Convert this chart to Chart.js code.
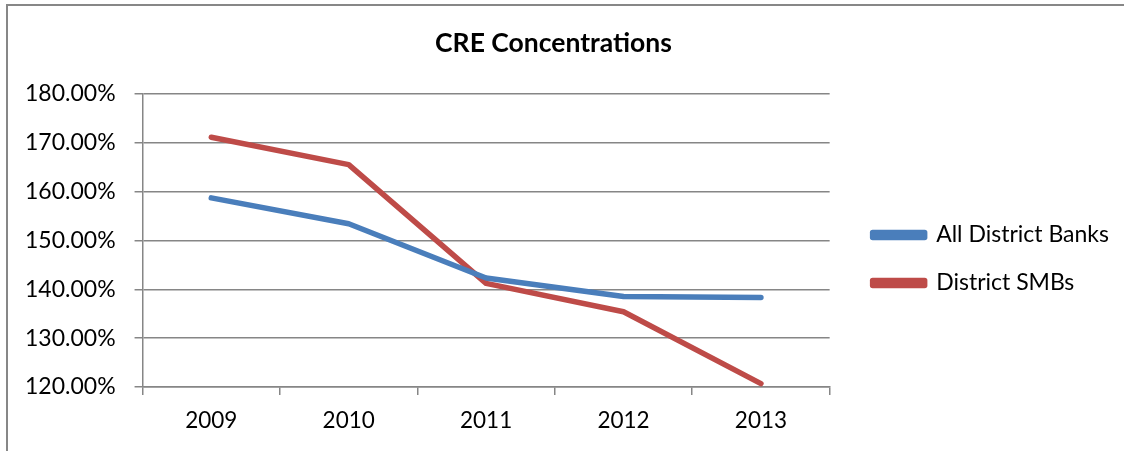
<!DOCTYPE html>
<html>
<head>
<meta charset="utf-8">
<script src="https://cdn.jsdelivr.net/npm/chart.js@4"></script>
<style>
  html, body { margin: 0; padding: 0; background: #fff; }
  #wrap { position: relative; width: 1124px; height: 451px; overflow: hidden; }
  #frame { position: absolute; left: 6px; top: 4px; width: 1120px; height: 450px;
           border-left: 2px solid #878787; border-top: 2px solid #878787; }
  #c { position: absolute; left: 0; top: 0; }
</style>
</head>
<body>
<div id="wrap">
  <div id="frame"></div>
  <canvas id="c" width="1124" height="451"></canvas>
</div>
<script>
const categories = ['2009', '2010', '2011', '2012', '2013'];
const allDistrictBanks = [158.7, 153.4, 142.3, 138.5, 138.3];
const districtSMBs = [171.1, 165.5, 141.2, 135.4, 120.7];
const yTicks = [120, 130, 140, 150, 160, 170, 180];

const FONT = 'Lato, "Open Sans", "Liberation Sans", sans-serif';
const GRID = '#868686';

const legendShift = {
  id: 'legendShift',
  afterLayout(chart) {
    const lg = chart.legend;
    if (!lg) return;
    const dx = 18, dy = 36;
    lg.left += dx; lg.right += dx;
    lg.top += dy; lg.bottom += dy;
  }
};

new Chart(document.getElementById('c'), {
  type: 'line',
  data: {
    labels: categories,
    datasets: [
      { label: 'All District Banks', data: allDistrictBanks,
        borderColor: '#4a7ebb', backgroundColor: '#4a7ebb',
        borderWidth: 5.5, pointRadius: 0, tension: 0,
        borderCapStyle: 'round', borderJoinStyle: 'round' },
      { label: 'District SMBs', data: districtSMBs,
        borderColor: '#be4b48', backgroundColor: '#be4b48',
        borderWidth: 5.5, pointRadius: 0, tension: 0,
        borderCapStyle: 'round', borderJoinStyle: 'round' }
    ]
  },
  plugins: [legendShift],
  options: {
    responsive: false,
    animation: false,
    layout: { padding: { left: 6, right: 23, top: 0, bottom: 5 } },
    plugins: {
      title: { display: true, text: 'CRE Concentrations', color: '#000',
        font: { family: FONT, size: 26.5, weight: 'bold' },
        padding: { top: 28, bottom: 34 } },
      legend: { position: 'right',
        labels: { color: '#000', boxWidth: 52, boxHeight: 5, padding: 25,
          font: { family: FONT, size: 23 } } },
      tooltip: { enabled: false }
    },
    scales: {
      x: {
        offset: true,
        grid: { display: true, offset: true, drawOnChartArea: false, drawTicks: true,
          tickLength: 8, color: GRID, lineWidth: 1.5 },
        border: { display: true, color: GRID, width: 1.5 },
        ticks: { color: '#000', padding: 12, font: { family: FONT, size: 22.5 } }
      },
      y: {
        min: 120, max: 180,
        afterBuildTicks: (s) => { s.ticks = yTicks.map(v => ({ value: v })); },
        grid: { color: GRID, lineWidth: 1.5, tickLength: 8, drawTicks: true },
        border: { display: true, color: GRID, width: 1.5 },
        ticks: { color: '#000', padding: 19, font: { family: FONT, size: 23 },
          callback: (v) => Number(v).toFixed(2) + '%' }
      }
    }
  }
});
</script>
</body>
</html>
